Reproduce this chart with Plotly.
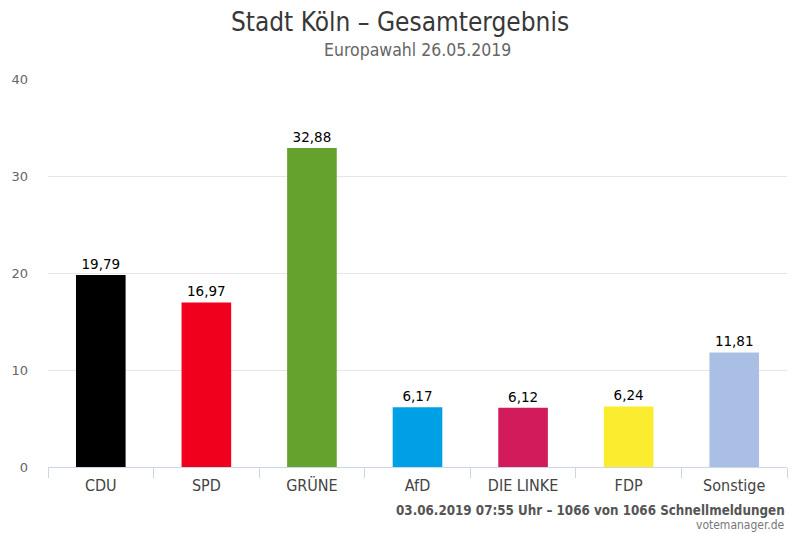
import plotly.graph_objects as go

parties = ["CDU", "SPD", "GRÜNE", "AfD", "DIE LINKE", "FDP", "Sonstige"]
shares = [19.79, 16.97, 32.88, 6.17, 6.12, 6.24, 11.81]
colors = ["#000000", "#f0001c", "#64a12d", "#00a0e6", "#d11b5b", "#fbec2f", "#aabfe4"]

narrow = "DejaVu Sans Condensed, Liberation Sans Narrow, sans-serif"

fig = go.Figure(go.Bar(
    x=parties,
    y=shares,
    marker=dict(color=colors, line=dict(width=0)),
    texttemplate="%{y:.2f}",
    textposition="outside",
    cliponaxis=False,
    textfont=dict(family="DejaVu Sans", size=13.5, color="#000000"),
    hoverinfo="skip",
))

fig.update_layout(
    width=800,
    height=533,
    separators=",.",
    paper_bgcolor="white",
    plot_bgcolor="white",
    margin=dict(l=48, r=13, t=79, b=66),
    bargap=0.53,
    showlegend=False,
    title=dict(
        text="Stadt Köln – Gesamtergebnis",
        x=0.5, xanchor="center",
        y=0.958, yanchor="middle",
        font=dict(family=narrow, size=26, color="#383838"),
    ),
)

fig.update_xaxes(
    showline=True, linecolor="#ccd6eb", linewidth=1,
    ticks="outside", tickson="boundaries", ticklen=10, tickcolor="#ccd6eb",
    ticklabelstandoff=4,
    tickfont=dict(family=narrow, size=16, color="#444444"),
    showgrid=False,
)
fig.update_yaxes(
    range=[0, 40], dtick=10,
    gridcolor="#e6e6e6", gridwidth=1,
    zeroline=False,
    ticklabelstandoff=19,
    tickfont=dict(family="DejaVu Sans", size=13, color="#666666"),
)

fig.add_annotation(
    text="Europawahl 26.05.2019",
    xref="paper", yref="paper", x=0.5, y=1, yshift=29,
    xanchor="center", yanchor="middle", showarrow=False,
    font=dict(family=narrow, size=17.5, color="#666666"),
)
fig.add_annotation(
    text="<b>03.06.2019 07:55 Uhr – 1066 von 1066 Schnellmeldungen</b>",
    xref="paper", yref="paper", x=1, y=0, yshift=-43,
    xanchor="right", yanchor="middle", showarrow=False,
    font=dict(family=narrow, size=13.3, color="#555555"),
)
fig.add_annotation(
    text="votemanager.de",
    xref="paper", yref="paper", x=1, y=0, yshift=-58,
    xanchor="right", yanchor="middle", showarrow=False,
    font=dict(family=narrow, size=12, color="#777777"),
)

fig.write_html(
    "out.html",
    config={"displayModeBar": False},
    post_script="document.body.style.margin='0';",
)
